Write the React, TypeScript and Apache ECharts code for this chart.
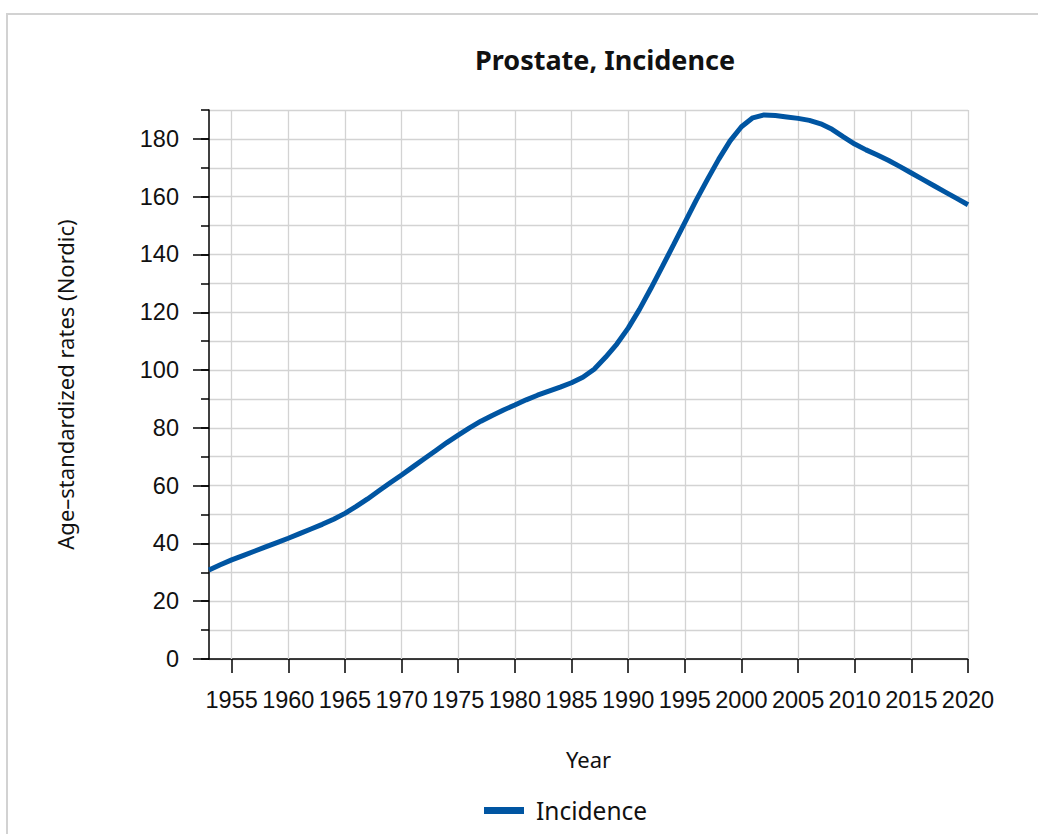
import React, { useEffect, useRef } from "react";
import * as echarts from "echarts";

const years: number[] = [];
for (let y = 1953; y <= 2020; y++) years.push(y);

const incidence = [
  30.8, 32.6, 34.3, 35.8, 37.3, 38.8, 40.3, 41.8, 43.4, 45.0,
  46.6, 48.4, 50.4, 52.8, 55.4, 58.2, 61.0, 63.7, 66.5, 69.3,
  72.1, 74.9, 77.5, 80.0, 82.3, 84.3, 86.2, 87.9, 89.7, 91.3,
  92.7, 94.1, 95.6, 97.5, 100.3, 104.4, 109.0, 114.5, 121.0, 128.2,
  135.7, 143.3, 151.0, 158.7, 166.0, 173.0, 179.3, 184.2, 187.3, 188.3,
  188.1, 187.6, 187.1, 186.4, 185.2, 183.3, 180.7, 178.2, 176.2, 174.4,
  172.5, 170.4, 168.2, 166.0, 163.8, 161.6, 159.4, 157.2,
];

const xTicks = [1955, 1960, 1965, 1970, 1975, 1980, 1985, 1990, 1995, 2000, 2005, 2010, 2015, 2020];
const yLabelTicks = [0, 20, 40, 60, 80, 100, 120, 140, 160, 180];

const SANS = "'Noto Sans', sans-serif";
const ARIAL = "'Liberation Sans', Arial, sans-serif";
const GRID = "#d3d3d3";

export default function App() {
  const ref = useRef<HTMLDivElement>(null);
  useEffect(() => {
    if (!ref.current) return;
    const chart = echarts.init(ref.current, undefined, { renderer: "svg" });
    const data = years.map((y, i) => [y, incidence[i]]);
    chart.setOption({
      animation: false,
      backgroundColor: "transparent",
      title: {
        text: "Prostate, Incidence",
        left: 600,
        top: 41,
        textAlign: "center",
        textStyle: { fontFamily: SANS, fontSize: 27, fontWeight: "bold", color: "#111" },
      },
      legend: {
        data: ["Incidence"],
        left: 484,
        top: 798,
        padding: 0,
        icon: "rect",
        itemWidth: 40,
        itemHeight: 7,
        itemGap: 10,
        textStyle: { fontFamily: SANS, fontSize: 24.5, color: "#111", padding: [0, 0, 0, 7] },
      },
      grid: { left: 209, top: 110, width: 759, height: 549 },
      xAxis: {
        type: "value",
        min: 1953,
        max: 2020,
        name: "Year",
        nameLocation: "middle",
        nameGap: 89,
        nameTextStyle: { fontFamily: SANS, fontSize: 22, color: "#111" },
        axisLine: { show: true, onZero: false, lineStyle: { color: "#000", width: 1.5 } },
        axisTick: { show: true, length: 14, lineStyle: { color: "#000", width: 1.5 }, customValues: xTicks },
        axisLabel: {
          customValues: xTicks,
          fontFamily: ARIAL,
          fontSize: 23.5,
          color: "#111",
          margin: 29,
          formatter: (v: number) => String(v),
        },
        splitLine: { show: false },
      },
      yAxis: [
        {
          type: "value",
          min: 0,
          max: 190,
          interval: 10,
          name: "Age–standardized rates (Nordic)",
          nameLocation: "middle",
          nameGap: 133,
          nameTextStyle: { fontFamily: SANS, fontSize: 22, color: "#111" },
          axisLine: { show: true, lineStyle: { color: "#000", width: 1.5 } },
          axisTick: { show: true, length: 8, lineStyle: { color: "#000", width: 1.5 } },
          axisLabel: { show: false },
          splitLine: { show: true, lineStyle: { color: GRID, width: 1.3 } },
        },
        {
          type: "value",
          min: 0,
          max: 190,
          position: "left",
          axisLine: { show: false },
          axisTick: { show: true, length: 16, lineStyle: { color: "#000", width: 1.5 }, customValues: yLabelTicks },
          axisLabel: {
            customValues: yLabelTicks,
            fontFamily: ARIAL,
            fontSize: 23.5,
            color: "#111",
            margin: 30,
          },
          splitLine: { show: false },
        },
      ],
      series: [
        {
          name: "Incidence",
          type: "line",
          data,
          showSymbol: false,
          symbol: "none",
          smooth: false,
          lineStyle: { color: "#0055a2", width: 5 },
          itemStyle: { color: "#0055a2" },
          z: 5,
          markLine: {
            silent: true,
            z: 1,
            symbol: ["none", "none"],
            label: { show: false },
            lineStyle: { color: GRID, width: 1.3, type: "solid" },
            emphasis: { disabled: true },
            data: xTicks.map((v) => ({ xAxis: v })),
          },
        },
      ],
    });
    return () => chart.dispose();
  }, []);

  return (
    <div style={{ position: "absolute", left: 0, top: 0, width: 1038, height: 834, overflow: "hidden", background: "#fff" }}>
      <div
        style={{
          position: "absolute",
          left: 6,
          top: 13,
          width: 1200,
          height: 1000,
          border: "2px solid #d2d2d2",
          boxSizing: "border-box",
        }}
      />
      <div ref={ref} style={{ position: "absolute", left: 0, top: 0, width: 1038, height: 834 }} />
    </div>
  );
}
